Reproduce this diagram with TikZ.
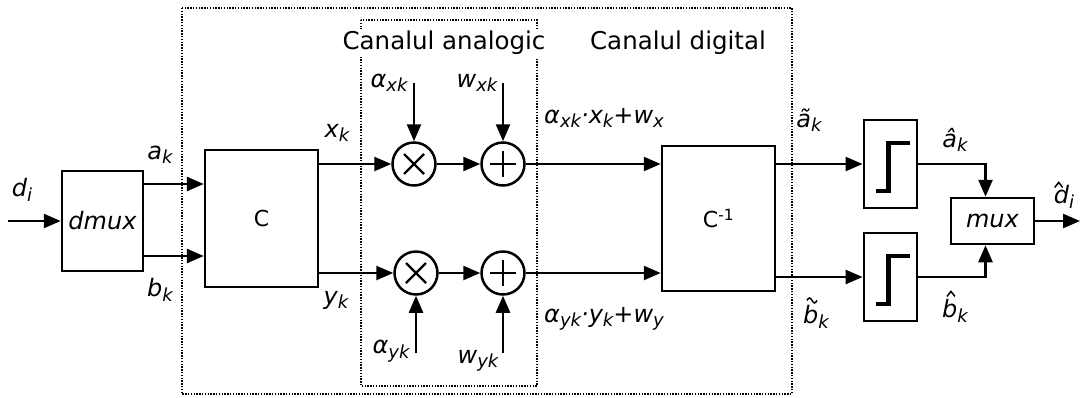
\documentclass[tikz,border=0pt]{standalone}
\usepackage{fontspec}
\setmainfont{DejaVu Sans}
\usetikzlibrary{arrows.meta,calc}
\newcommand{\vsub}[2]{#1\raisebox{-4.5pt}{\fontsize{18}{20}\selectfont #2}}
\tikzset{
  flow/.style={-{Triangle[length=17pt,width=14pt]},line width=2.5pt},
  blk/.style={draw,line width=2.5pt,inner sep=0pt,font=\fontsize{22}{26}\selectfont},
  thr/.style={blk,line width=2.8pt,minimum width=53pt,minimum height=88pt},
  stepline/.style={line width=4.5pt},
  accline/.style={line width=1.5pt},
  opnode/.style={draw,circle,line width=2.5pt,minimum size=43pt,inner sep=0pt},
  mult/.style={opnode,path picture={
      \draw[line width=2.2pt] ([shift={(-10,-10)}]path picture bounding box.center)
        -- ([shift={(10,10)}]path picture bounding box.center);
      \draw[line width=2.2pt] ([shift={(-10,10)}]path picture bounding box.center)
        -- ([shift={(10,-10)}]path picture bounding box.center);}},
  adder/.style={opnode,path picture={
      \draw[line width=2.2pt] ([shift={(-13,0)}]path picture bounding box.center)
        -- ([shift={(13,0)}]path picture bounding box.center);
      \draw[line width=2.2pt] ([shift={(0,-13)}]path picture bounding box.center)
        -- ([shift={(0,13)}]path picture bounding box.center);}},
  chanbox/.style={line width=1.5pt,dash pattern=on 1.4pt off 1.4pt},
  chanlabel/.style={fill=white,inner sep=2pt,font=\fontsize{24.5}{28}\selectfont},
  lbl/.style={inner sep=0pt,font=\fontsize{24}{28}\selectfont\itshape},
}

\begin{document}
\begin{tikzpicture}[x=1pt,y=-1pt]
  \useasboundingbox (0,0) rectangle (1081,397);

  % channels
  \draw[chanbox] (182,8) rectangle (792,394);
  \draw[chanbox] (361,20) rectangle (537,386);
  \node[chanlabel] (canA) at (444,43) {Canalul analogic};
  \node[chanlabel] (canD) at (678,43) {Canalul digital};

  % blocks
  \node[blk,minimum width=81pt,minimum height=100pt,font=\fontsize{24}{28}\selectfont\itshape] (dmux) at (102.5,221) {dmux};
  \node[blk,minimum width=113pt,minimum height=137pt] (C) at (261.5,218.5) {C};
  \node[mult] (mx) at (414,164) {};
  \node[adder] (ax) at (503,164) {};
  \node[mult] (my) at (416,273) {};
  \node[adder] (ay) at (503,273) {};
  \node[blk,minimum width=113pt,minimum height=145pt] (Cinv) at (718.5,218.5) {C\textsuperscript{-1}};
  \node[thr] (thA) at (890.5,164) {};
  \node[thr] (thB) at (890.5,277) {};
  \node[blk,minimum width=83pt,minimum height=46pt,font=\fontsize{24}{28}\selectfont\itshape] (mux) at (992.5,221) {mux};
  \foreach \t in {thA,thB}
    \draw[stepline] ([shift={(-15,27)}]\t.center) -- ++(13,0) -- ++(0,-48) -- ++(21,0);

  \coordinate (din) at (8,221);
  \coordinate (dout) at (1080,221);
  \coordinate (axin) at (414,83);
  \coordinate (wxin) at (503,83);
  \coordinate (ayin) at (416,353);
  \coordinate (wyin) at (503,353);

  % connectors
  \draw[flow] (din) -- (dmux.west);
  \draw[flow] ([yshift=37pt]dmux.east) -- ([yshift=37pt]dmux.east -| C.west);
  \draw[flow] ([yshift=-35pt]dmux.east) -- ([yshift=-35pt]dmux.east -| C.west);
  \draw[flow] (mx.west -| C.east) -- (mx.west);
  \draw[flow] (my.west -| C.east) -- (my.west);
  \draw[flow] (mx) -- (ax);
  \draw[flow] (my) -- (ay);
  \draw[flow] (axin) -- (mx.north);
  \draw[flow] (wxin) -- (ax.north);
  \draw[flow] (ayin) -- (my.south);
  \draw[flow] (wyin) -- (ay.south);
  \draw[flow] (ax.east) -- (ax.east -| Cinv.west);
  \draw[flow] (ay.east) -- (ay.east -| Cinv.west);
  \draw[flow] (thA.west -| Cinv.east) -- (thA.west);
  \draw[flow] (thB.west -| Cinv.east) -- (thB.west);
  \draw[flow] (thA.east) -| ([xshift=-7pt]mux.north);
  \draw[flow] (thB.east) -| ([xshift=-7pt]mux.south);
  \draw[flow] (mux.east) -- (dout);

  % labels
  \node[lbl] (ldi) at (22,190) {\vsub{d}{i}};
  \node[lbl] (lak) at (160,155) {\vsub{a}{k}};
  \node[lbl] (lbk) at (160,290) {\vsub{b}{k}};
  \node[lbl] (lxk) at (337,133) {\vsub{x}{k}};
  \node[lbl] (lyk) at (336,300) {\vsub{y}{k}};
  \node[lbl] (laxk) at (389,83) {\vsub{α}{xk}};
  \node[lbl] (lwxk) at (477,83) {\vsub{w}{xk}};
  \node[lbl] (layk) at (391,351) {\vsub{α}{yk}};
  \node[lbl] (lwyk) at (478,361) {\vsub{w}{yk}};
  \node[lbl] (lsx) at (604,118) {\vsub{α}{xk}·\vsub{x}{k}+\vsub{w}{x}};
  \node[lbl] (lsy) at (604,319) {\vsub{α}{yk}·\vsub{y}{k}+\vsub{w}{y}};
  \node[lbl] (ltak) at (809,120) {\vsub{ã}{k}};
  \node[lbl] (ltbk) at (816,317) {\vsub{b}{k}};
  \node[lbl] (lhak) at (955,140) {\vsub{â}{k}};
  \node[lbl] (lhbk) at (955,311) {\vsub{b}{k}};
  \node[lbl] (lhdi) at (1064,197) {\vsub{d}{i}};
  % accents
  \draw[accline] ([shift={(4,-5)}]ltbk.north west) sin ++(2.5,-2.5) cos ++(2.5,2.5)
    sin ++(2.5,2.5) cos ++(2.5,-2.5);
  \draw[accline] ([shift={(5,-3)}]lhbk.north west) -- ++(4,-5) -- ++(4,5);
  \draw[accline] ([shift={(1,2)}]lhdi.north west) -- ++(4,-5) -- ++(4,5);
\end{tikzpicture}
\end{document}
